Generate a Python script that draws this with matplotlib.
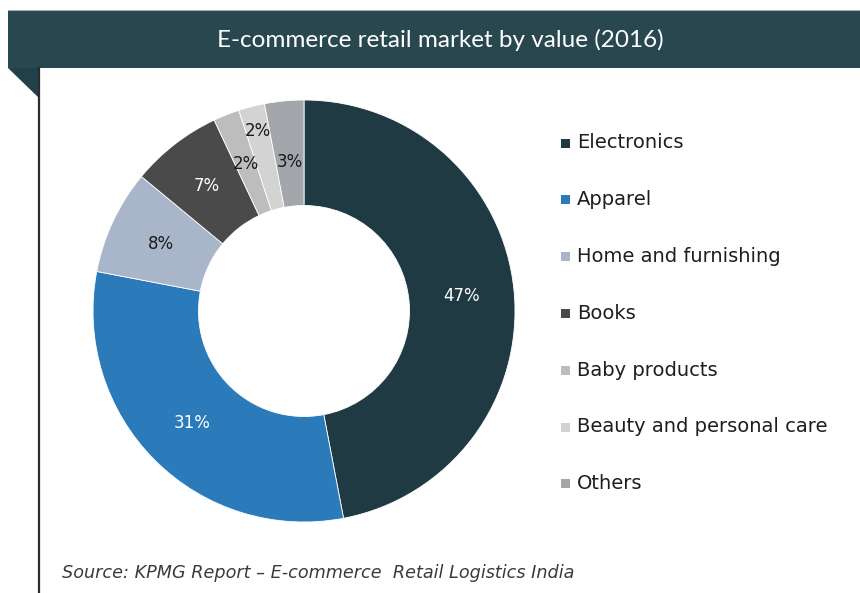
import numpy as np
import matplotlib
matplotlib.use("Agg")
import matplotlib.pyplot as plt
from matplotlib.patches import Rectangle, Polygon

# ---- data -------------------------------------------------------------
categories = ["Electronics", "Apparel", "Home and furnishing", "Books",
              "Baby products", "Beauty and personal care", "Others"]
shares = [47, 31, 8, 7, 2, 2, 3]
slice_colors = ["#1f3a43", "#2b7bba", "#a9b5c9", "#4a4a4a",
                "#bdbdbd", "#d3d3d3", "#a3a7ab"]
value_text_colors = ["white", "white", "#1a1a1a", "white",
                     "#1a1a1a", "#1a1a1a", "#1a1a1a"]
value_radius = [0.75, 0.75, 0.75, 0.75, 0.75, 0.88, 0.71]
title = "E-commerce retail market by value (2016)"
source = "Source: KPMG Report \u2013 E-commerce  Retail Logistics India"

# ---- canvas -----------------------------------------------------------
W, H = 860, 593
fig = plt.figure(figsize=(W / 100, H / 100), dpi=100)
fig.patch.set_facecolor("white")

bg = fig.add_axes([0, 0, 1, 1])
bg.set_xlim(0, W)
bg.set_ylim(H, 0)
bg.axis("off")

# header band with folded corner and left rule
band = "#29474f"
bg.add_patch(Rectangle((8, 10), W - 8, 58, color=band, lw=0))
bg.plot([8, W], [9.5, 9.5], color="#9fb0b4", lw=0.8)
bg.add_patch(Polygon([(8, 68), (40, 68), (40, 99)], closed=True,
                     color="#22404a", lw=0))
bg.plot([39, 39], [68, H], color="#2c2c2c", lw=1.6)
bg.text(440, 40, title, color="white", fontsize=17.5, family="Lato",
        ha="center", va="center")

# ---- donut ------------------------------------------------------------
cx, cy, R = 304, 311, 211
pad = 1.04
Rax = R * pad
pie_ax = fig.add_axes([(cx - Rax) / W, (H - cy - Rax) / H,
                       2 * Rax / W, 2 * Rax / H])
pie_ax.pie(shares, colors=slice_colors, startangle=90, counterclock=False,
           radius=1, wedgeprops=dict(width=0.5, edgecolor="white",
                                     linewidth=0.6))
pie_ax.set_xlim(-pad, pad)
pie_ax.set_ylim(-pad, pad)
pie_ax.set_aspect("equal")
pie_ax.axis("off")

total = float(sum(shares))
cum = 0.0
for v, tc, rr in zip(shares, value_text_colors, value_radius):
    mid = np.deg2rad(90 - 360 * (cum + v / 2) / total)
    pie_ax.text(rr * np.cos(mid), rr * np.sin(mid), f"{v}%",
                color=tc, fontsize=12, family="DejaVu Sans",
                ha="center", va="center")
    cum += v

# ---- legend -----------------------------------------------------------
ly0, ldy = 143, 56.8
for i, (name, col) in enumerate(zip(categories, slice_colors)):
    y = ly0 + i * ldy
    bg.add_patch(Rectangle((561, y - 4.5), 9, 9, color=col, lw=0))
    bg.text(577, y, name, color="#1e1e1e", fontsize=14,
            family="DejaVu Sans", ha="left", va="center")

# ---- source note ------------------------------------------------------
bg.text(62, 573, source, color="#3a3a3a", fontsize=12.7, style="italic",
        family="DejaVu Sans", ha="left", va="center")

fig.savefig("out.png", dpi=100, facecolor="white")
